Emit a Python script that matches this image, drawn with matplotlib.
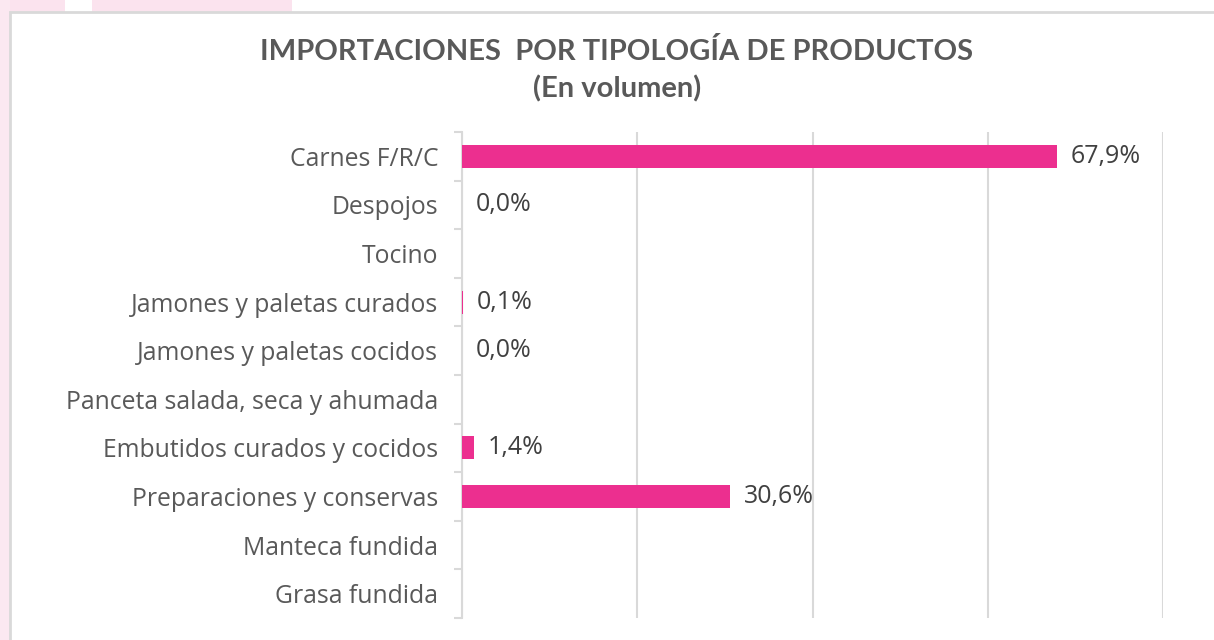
import matplotlib
matplotlib.use("Agg")
import matplotlib.pyplot as plt
from matplotlib.patches import Rectangle
import numpy as np

categories = ["Carnes F/R/C", "Despojos", "Tocino", "Jamones y paletas curados",
              "Jamones y paletas cocidos", "Panceta salada, seca y ahumada",
              "Embutidos curados y cocidos", "Preparaciones y conservas",
              "Manteca fundida", "Grasa fundida"]
values = [67.9, 0.0, None, 0.1, 0.0, None, 1.4, 30.6, None, None]
x_ticks = [0, 20, 40, 60, 80]
title = "IMPORTACIONES  POR TIPOLOGÍA DE PRODUCTOS\n(En volumen)"

BAR = "#EC2F8F"
TXT = "#595959"
GRID = "#D9D9D9"
FONT = ["Open Sans", "DejaVu Sans"]
TFONT = ["Lato", "DejaVu Sans"]

W, H = 1214, 640
fig = plt.figure(figsize=(W / 100, H / 100), dpi=100)
fig.patch.set_facecolor("white")

# decorative pink background pieces and chart frame
fig.add_artist(Rectangle((0, 1 - 12 / H), 65 / W, 12 / H, transform=fig.transFigure,
                         facecolor="#FBE3EE", edgecolor="none", zorder=0))
fig.add_artist(Rectangle((92 / W, 1 - 12 / H), 200 / W, 12 / H, transform=fig.transFigure,
                         facecolor="#FBE3EE", edgecolor="none", zorder=0))
fig.add_artist(Rectangle((0, 0), 10 / W, 1, transform=fig.transFigure,
                         facecolor="#FBE8F1", edgecolor="none", zorder=0))
fig.add_artist(Rectangle((10 / W, -0.05), 1.1, 1 - 12 / H + 0.05, transform=fig.transFigure,
                         facecolor="white", edgecolor="#D9D9D9", linewidth=2, zorder=0.5))

ax = fig.add_axes([462 / W, 22 / H, 701 / W, 486 / H])
ax.set_facecolor("none")
ax.set_zorder(2)

y = np.arange(len(categories))
vals = [np.nan if v is None else v for v in values]
ax.barh(y, vals, height=0.47, color=BAR, zorder=3)
for yi, v in zip(y, values):
    if v is None:
        continue
    ax.annotate(f"{v:.1f}%".replace(".", ","), xy=(v, yi), xytext=(10, 0),
                textcoords="offset points", va="center", ha="left",
                fontsize=18, color="#404040", family=FONT, zorder=4)

ax.set_xlim(0, 80)
ax.set_ylim(len(categories) - 0.5, -0.5)
ax.set_xticks(x_ticks)
ax.set_xticklabels([])
ax.tick_params(axis="x", length=0)
ax.grid(axis="x", color=GRID, linewidth=1.5, zorder=0)
ax.set_yticks(y)
ax.set_yticklabels(categories, fontsize=17.8, color=TXT, family=FONT)
ax.set_yticks(np.arange(len(categories) + 1) - 0.5, minor=True)
ax.tick_params(axis="y", which="major", length=0, pad=17)
ax.tick_params(axis="y", which="minor", length=6, width=1.5, color=GRID)
for s in ["top", "right", "bottom"]:
    ax.spines[s].set_visible(False)
ax.spines["left"].set_color(GRID)
ax.spines["left"].set_linewidth(1.5)

fig.text(617 / W, 1 - 70 / H, title, ha="center", va="center", fontsize=21,
         fontweight="bold", color=TXT, family=TFONT, linespacing=1.45)

fig.savefig("out.png", dpi=100)
